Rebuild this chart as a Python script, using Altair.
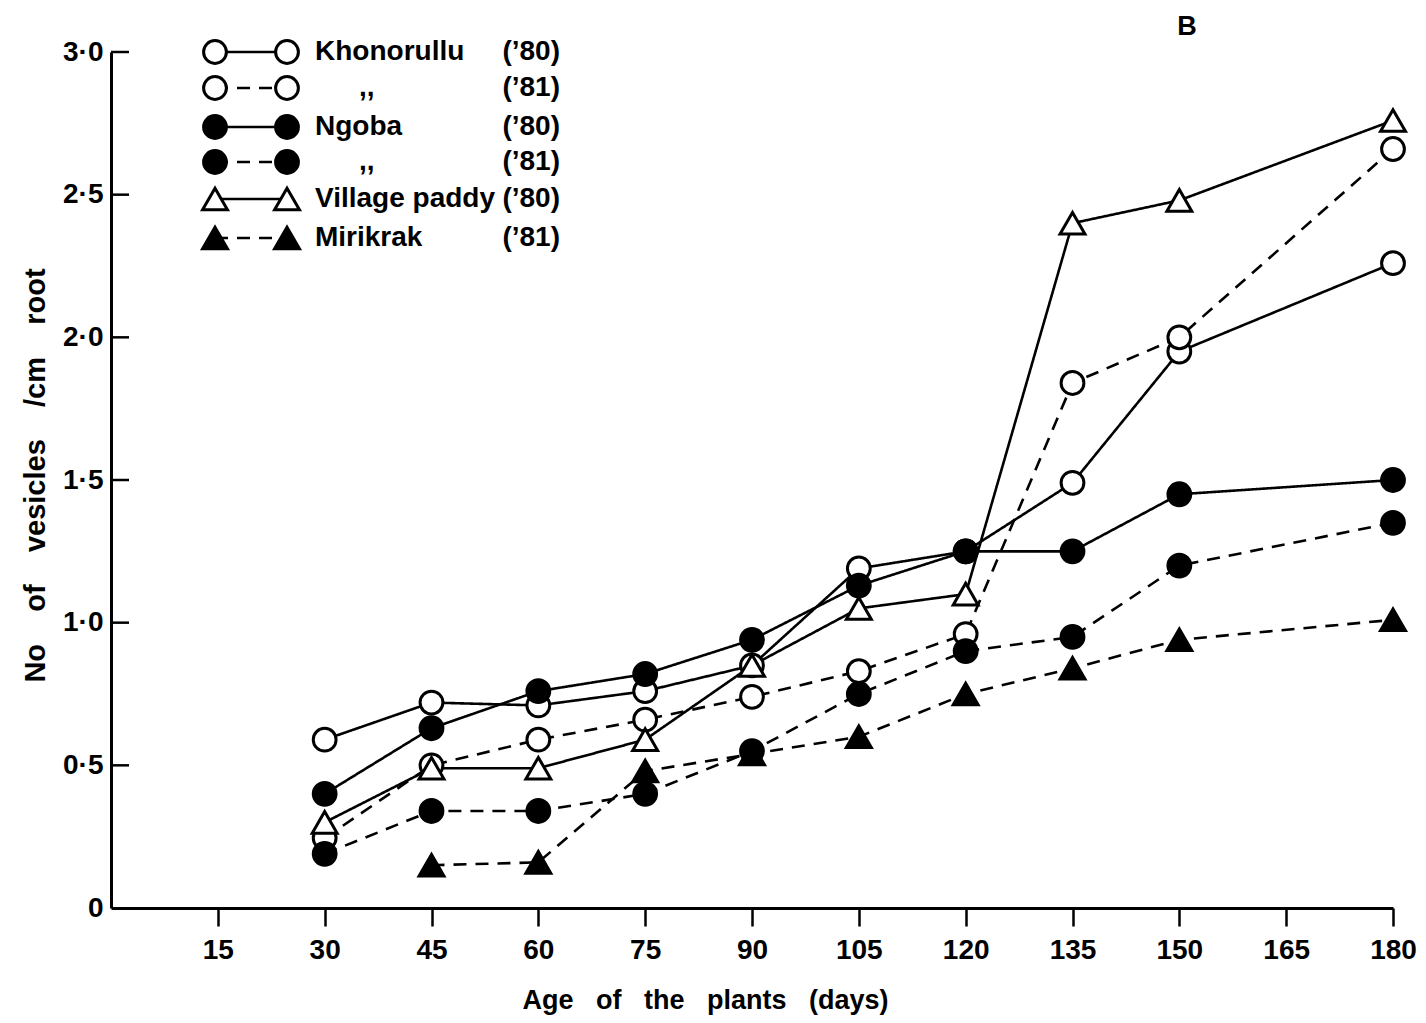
import altair as alt
import pandas as pd

# Sampling ages (days) and vesicle counts per cm of root
days = [30, 45, 60, 75, 90, 105, 120, 135, 150, 180]
khonorullu_80 = [0.59, 0.72, 0.71, 0.76, 0.85, 1.19, 1.25, 1.49, 1.95, 2.26]
khonorullu_81 = [0.245, 0.50, 0.59, 0.66, 0.74, 0.83, 0.96, 1.84, 2.00, 2.66]
ngoba_80 = [0.40, 0.63, 0.76, 0.82, 0.94, 1.13, 1.25, 1.25, 1.45, 1.50]
ngoba_81 = [0.19, 0.34, 0.34, 0.40, 0.55, 0.75, 0.90, 0.95, 1.20, 1.35]
village_paddy_80 = [0.30, 0.49, 0.49, 0.59, 0.85, 1.05, 1.10, 2.40, 2.48, 2.76]
mirikrak_81 = [None, 0.15, 0.16, 0.48, 0.54, 0.60, 0.75, 0.84, 0.94, 1.01]

x_ticks = [15, 30, 45, 60, 75, 90, 105, 120, 135, 150, 165, 180]
y_ticks = [0, 0.5, 1.0, 1.5, 2.0, 2.5, 3.0]

# name, legend text, year, shape, fill, dash
series = [
    ("Khonorullu 80", "Khonorullu", "(\u201980)", "circle", "white", "solid", khonorullu_80),
    ("Khonorullu 81", ",,", "(\u201981)", "circle", "white", "dashed", khonorullu_81),
    ("Ngoba 80", "Ngoba", "(\u201980)", "circle", "black", "solid", ngoba_80),
    ("Ngoba 81", ",,", "(\u201981)", "circle", "black", "dashed", ngoba_81),
    ("Village paddy 80", "Village paddy", "(\u201980)", "triangle-up", "white", "solid", village_paddy_80),
    ("Mirikrak 81", "Mirikrak", "(\u201981)", "triangle-up", "black", "dashed", mirikrak_81),
]

FONT = "Liberation Sans"
SIZES = {"circle": 520, "triangle-up": 620}
SP2 = "\u00a0\u00a0"
SP3 = "\u00a0\u00a0\u00a0"

rows = []
for key, _, _, shp, fill, dash, vals in series:
    for d, v in zip(days, vals):
        if v is not None:
            rows.append(dict(series=key, day=d, value=v, shape=shp, fill=fill,
                             dash=dash, size=SIZES[shp]))
df = pd.DataFrame(rows)

W, H = 1282, 856
xscale = alt.Scale(domain=[0, 180], nice=False, zero=True)
yscale = alt.Scale(domain=[0, 3], nice=False, zero=True)
dash_scale = alt.Scale(domain=["solid", "dashed"], range=[[1, 0], [13, 9]])

x_axis = alt.Axis(
    values=x_ticks, grid=False, tickSize=18, tickWidth=2.5, tickColor="black",
    domainColor="black", domainWidth=3, labelFont=FONT, labelFontSize=28,
    labelFontWeight="bold", labelColor="black", labelPadding=10, labelFlush=False,
    title=SP3.join(["Age", "of", "the", "plants", "(days)"]),
    titleFont=FONT, titleFontSize=27, titleFontWeight="bold", titleColor="black",
    titleX=594, titleY=92, titleAnchor="middle", titleAlign="center", titleBaseline="middle",
)
y_axis = alt.Axis(
    values=y_ticks, grid=False, tickSize=0, domainColor="black", domainWidth=3,
    labelFont=FONT, labelFontSize=28, labelFontWeight="bold", labelColor="black",
    labelPadding=8, labelFlush=False,
    labelExpr="datum.value == 0 ? '0' : replace(format(datum.value, '.1f'), '.', '\u00b7')",
    title=(SP3 + "\u00a0").join(["No", "of", "vesicles", "/cm", "root"]),
    titleFont=FONT, titleFontSize=29, titleFontWeight="bold", titleColor="black",
    titleAngle=-90, titleX=-76, titleY=423, titleAlign="center", titleBaseline="middle",
)

lines = alt.Chart(df).mark_line(color="black", strokeWidth=2.6).encode(
    x=alt.X("day:Q", scale=xscale, axis=x_axis),
    y=alt.Y("value:Q", scale=yscale, axis=y_axis),
    detail="series:N",
    strokeDash=alt.StrokeDash("dash:N", scale=dash_scale, legend=None),
    order="day:Q",
)

points = alt.Chart(df).mark_point(filled=True, stroke="black", strokeWidth=3, opacity=1).encode(
    x=alt.X("day:Q", scale=xscale),
    y=alt.Y("value:Q", scale=yscale),
    shape=alt.Shape("shape:N", scale=None),
    fill=alt.Fill("fill:N", scale=None),
    size=alt.Size("size:Q", scale=None),
)

# Inward-pointing ticks on the value axis
ytick_df = pd.DataFrame({"v": y_ticks[1:]})
yticks = alt.Chart(ytick_df).mark_rule(color="black", strokeWidth=2.5).encode(
    y=alt.Y("v:Q", scale=yscale),
    x=alt.value(0),
    x2=alt.value(18),
)

# Hand-built key in the upper-left corner
ROW_Y = [0, 36, 75, 110, 147, 186]
leg = []
for i, (key, name, year, shp, fill, dash, _) in enumerate(series):
    leg.append(dict(row=i, py=ROW_Y[i], x1=104, x2=176, name=name, year=year,
                    shape=shp, fill=fill, dash=dash, size=SIZES[shp],
                    nx=248 if name == ",," else 204))
leg_df = pd.DataFrame(leg)
leg_pts = pd.concat([leg_df.assign(px=leg_df.x1), leg_df.assign(px=leg_df.x2)])

leg_lines = alt.Chart(leg_df).mark_rule(color="black", strokeWidth=2.6).encode(
    x=alt.X("x1:Q", scale=None), x2="x2:Q",
    y=alt.Y("py:Q", scale=None),
    strokeDash=alt.StrokeDash("dash:N", scale=dash_scale, legend=None),
)
leg_marks = alt.Chart(leg_pts).mark_point(filled=True, stroke="black", strokeWidth=3, opacity=1).encode(
    x=alt.X("px:Q", scale=None),
    y=alt.Y("py:Q", scale=None),
    shape=alt.Shape("shape:N", scale=None),
    fill=alt.Fill("fill:N", scale=None),
    size=alt.Size("size:Q", scale=None),
)
leg_names = alt.Chart(leg_df).mark_text(
    font=FONT, fontSize=28, fontWeight="bold", color="black", align="left", baseline="middle"
).encode(x=alt.X("nx:Q", scale=None), y=alt.Y("py:Q", scale=None), text="name:N")
leg_years = alt.Chart(leg_df).mark_text(
    font=FONT, fontSize=28, fontWeight="bold", color="black", align="right", baseline="middle"
).encode(x=alt.value(449), y=alt.Y("py:Q", scale=None), text="year:N")

panel_label = alt.Chart(pd.DataFrame({"t": ["B"]})).mark_text(
    font=FONT, fontSize=27, fontWeight="bold", color="black", align="center", baseline="middle"
).encode(x=alt.value(1076), y=alt.value(-25), text="t:N")

chart = alt.layer(
    lines, yticks, points, leg_lines, leg_marks, leg_names, leg_years, panel_label
).properties(
    width=W, height=H,
    autosize=alt.AutoSizeParams(type="none"),
    padding={"left": 111, "top": 52, "right": 33, "bottom": 115},
    background="white",
).configure_view(stroke=None)

chart.save("out.html", embed_options={"renderer": "svg", "actions": False})
